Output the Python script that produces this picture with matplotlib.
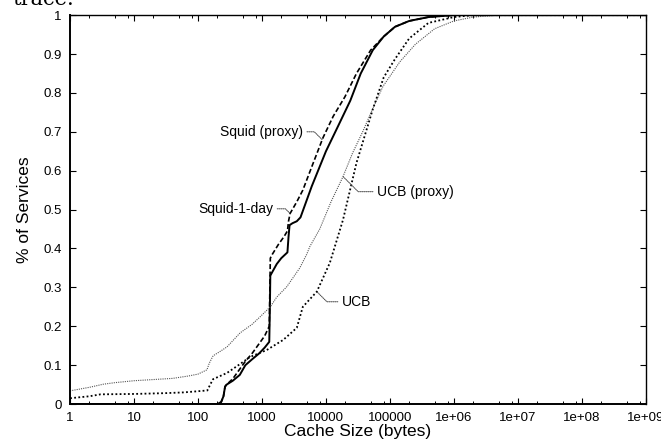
import matplotlib
matplotlib.use("Agg")
import matplotlib.pyplot as plt
from matplotlib.ticker import LogLocator, NullFormatter

plt.rcParams['font.family'] = ['Liberation Sans', 'DejaVu Sans']

# Squid-1-day (solid)
day_x = [1, 200, 230, 250, 265, 280, 350, 450, 550, 700, 900, 1100, 1300, 1330, 1350,
         1400, 1700, 2000, 2500, 2600, 2700, 3000, 3500, 4000, 6000, 10000, 15000, 24000,
         35000, 54000, 80000, 120000, 200000, 400000, 1e6, 1e9]
day_y = [0, 0, 0.005, 0.02, 0.045, 0.05, 0.06, 0.075, 0.10, 0.115, 0.13, 0.145, 0.16, 0.25, 0.33,
         0.335, 0.36, 0.375, 0.39, 0.43, 0.46, 0.465, 0.47, 0.48, 0.56, 0.65, 0.71, 0.78,
         0.85, 0.91, 0.945, 0.97, 0.985, 0.995, 1, 1]

# Squid (proxy) (dashed)
sq_x = [1, 200, 230, 250, 265, 280, 350, 450, 550, 700, 900, 1100, 1300, 1330, 1350, 1450,
        1800, 2200, 2500, 2600, 2750, 3500, 4350, 6000, 9000, 13000, 19800, 30000, 50000,
        80000, 120000, 200000, 400000, 1e6, 1e9]
sq_y = [0, 0, 0.005, 0.02, 0.045, 0.05, 0.065, 0.09, 0.11, 0.13, 0.155, 0.175, 0.20, 0.30, 0.375, 0.385,
        0.41, 0.43, 0.445, 0.47, 0.49, 0.52, 0.55, 0.61, 0.685, 0.74, 0.79, 0.85, 0.91,
        0.945, 0.97, 0.985, 0.995, 1, 1]

# UCB (proxy) (thin grey dots)
ucbp_x = [1, 2, 3.3, 5, 10, 20, 40, 70, 100, 138, 150, 172, 220, 284, 455, 700, 930, 1350, 1700,
          2450, 3900, 5000, 5600, 8000, 12000, 18500, 26000, 37500, 54000, 78000, 143000,
          250000, 500000, 1e6, 2e6, 5e6, 1e9]
ucbp_y = [0.034, 0.043, 0.051, 0.055, 0.06, 0.063, 0.066, 0.072, 0.077, 0.088, 0.105, 0.124, 0.135,
          0.147, 0.183, 0.205, 0.224, 0.25, 0.275, 0.302, 0.35, 0.385, 0.405, 0.45, 0.52, 0.585,
          0.645, 0.70, 0.76, 0.817, 0.88, 0.925, 0.965, 0.985, 0.995, 1, 1]

# UCB (heavy dots)
ucb_x = [1, 2, 3, 10, 30, 60, 100, 140, 155, 172, 284, 455, 650, 1190, 2150, 3500, 4350, 7200,
         11500, 18500, 30000, 54000, 80000, 120000, 200000, 400000, 1e6, 2e6, 1e9]
ucb_y = [0.015, 0.02, 0.025, 0.026, 0.028, 0.03, 0.033, 0.035, 0.05, 0.064, 0.08, 0.103, 0.121,
         0.139, 0.165, 0.196, 0.25, 0.289, 0.363, 0.474, 0.62, 0.758, 0.84, 0.887, 0.94, 0.98,
         0.995, 1, 1]

xticks = [1, 10, 100, 1000, 10000, 100000, 1e6, 1e7, 1e8, 1e9]
xticklabels = ['1', '10', '100', '1000', '10000', '100000', '1e+06', '1e+07', '1e+08', '1e+09']
yticks = [0, 0.1, 0.2, 0.3, 0.4, 0.5, 0.6, 0.7, 0.8, 0.9, 1]
yticklabels = ['0', '0.1', '0.2', '0.3', '0.4', '0.5', '0.6', '0.7', '0.8', '0.9', '1']

fig = plt.figure(figsize=(6.61, 4.45), dpi=100)
ax = fig.add_axes([0.106, 0.092, 0.871, 0.874])

ax.plot(sq_x, sq_y, color='black', lw=1.2, linestyle=(0, (3, 1.5)))
ax.plot(day_x, day_y, color='black', lw=1.4, linestyle='-')
ax.plot(ucbp_x, ucbp_y, color='#555555', lw=0.8, linestyle=(0, (1, 1)))
ax.plot(ucb_x, ucb_y, color='black', lw=1.3, linestyle=(0, (1, 1.3)))

ax.set_xscale('log')
ax.set_xlim(1, 1e9)
ax.set_ylim(0, 1)

ax.set_xticks(xticks)
ax.set_xticklabels(xticklabels)
ax.xaxis.set_minor_locator(LogLocator(base=10, subs=[2, 5, 8], numticks=20))
ax.xaxis.set_minor_formatter(NullFormatter())
ax.set_yticks(yticks)
ax.set_yticklabels(yticklabels)
ax.tick_params(which='major', direction='in', length=4, width=0.8, top=True, right=True,
               labelsize=9.5, pad=6)
ax.tick_params(which='minor', direction='in', length=2.5, width=0.7, top=True, right=True)
for side in ['left', 'bottom']:
    ax.spines[side].set_linewidth(1.4)
for side in ['top', 'right']:
    ax.spines[side].set_linewidth(1.0)

ax.set_xlabel('Cache Size (bytes)', fontsize=12.5, labelpad=0)
ax.set_ylabel('% of Services', fontsize=12.5, labelpad=8)

lead = dict(arrowstyle='-', color='#444444', lw=0.7, linestyle=(0, (1, 1)),
            connectionstyle='angle,angleA=0,angleB=-45,rad=0', shrinkA=1, shrinkB=0)
ax.annotate('Squid (proxy)', xy=(8700, 0.68), xytext=(4350, 0.70), ha='right', va='center',
            fontsize=10, arrowprops=lead)
ax.annotate('Squid-1-day', xy=(2750, 0.49), xytext=(1490, 0.502), ha='right', va='center',
            fontsize=10, arrowprops=lead)
ax.annotate('UCB (proxy)', xy=(18500, 0.585), xytext=(63000, 0.546), ha='left', va='center',
            fontsize=10, arrowprops=lead)
ax.annotate('UCB', xy=(7200, 0.289), xytext=(17800, 0.263), ha='left', va='center',
            fontsize=10, arrowprops=lead)

# caption fragment cut off at the top of the image
fig.text(0.018, 1 - 5 / 445, 'trace.', va='baseline', ha='left', fontsize=15,
         family='DejaVu Serif')

fig.savefig('out.png', dpi=100)
